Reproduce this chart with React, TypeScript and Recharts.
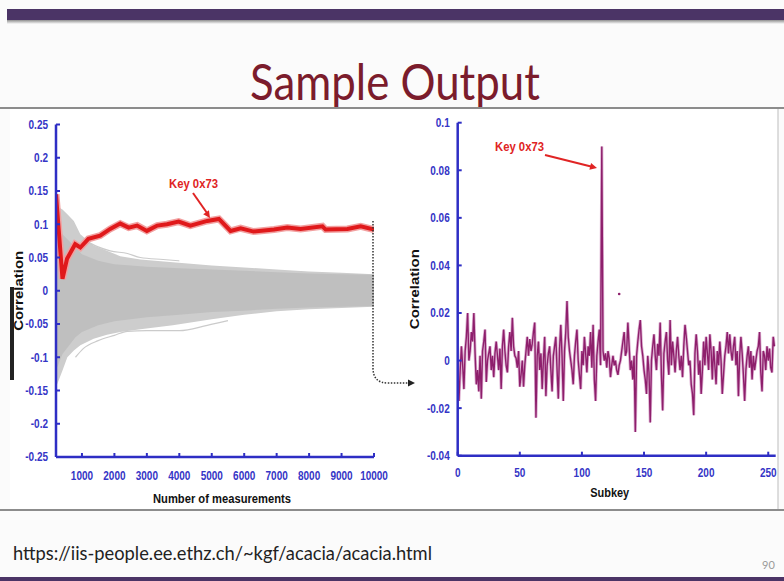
import React from "react";
import { ComposedChart, LineChart, Line, Area, XAxis, YAxis, ReferenceDot } from "recharts";

// left chart: correlation vs number of measurements
const measurementTicks = [1000, 2000, 3000, 4000, 5000, 6000, 7000, 8000, 9000, 10000];
const leftCorrTicks = [-0.25, -0.2, -0.15, -0.1, -0.05, 0, 0.05, 0.1, 0.15, 0.2, 0.25];

const keyX = [200, 400, 540, 790, 950, 1200, 1560, 1870, 2180, 2440, 2700, 3000, 3320, 3620, 3980, 4340, 4860, 5220, 5580, 5890, 6290, 6920, 7330, 7740, 8410, 8510, 9180, 9590, 10000];
const keyCorr = [0.145, 0.018, 0.048, 0.07, 0.065, 0.078, 0.083, 0.093, 0.101, 0.095, 0.098, 0.09, 0.098, 0.1, 0.104, 0.098, 0.105, 0.108, 0.09, 0.094, 0.089, 0.092, 0.095, 0.093, 0.097, 0.092, 0.093, 0.097, 0.092];

// envelope of the wrong-key guesses
const bandX = [200, 400, 550, 750, 950, 1360, 1770, 2180, 2800, 3800, 5000, 6000, 7000, 8000, 9000, 10000];
const bandHi = [0.128, 0.122, 0.115, 0.105, 0.085, 0.068, 0.06, 0.052, 0.047, 0.043, 0.038, 0.035, 0.032, 0.029, 0.027, 0.025];
const bandLo = [-0.145, -0.12, -0.1, -0.09, -0.082, -0.072, -0.066, -0.062, -0.058, -0.052, -0.043, -0.036, -0.031, -0.028, -0.026, -0.024];

const coreX = [200, 400, 800, 1000, 1500, 2000, 3000, 4000, 5000, 6000, 7000, 8000, 9000, 10000];
const coreHi = [0.1, 0.085, 0.065, 0.055, 0.045, 0.04, 0.036, 0.034, 0.032, 0.03, 0.028, 0.026, 0.025, 0.024];
const coreLo = [-0.12, -0.095, -0.07, -0.062, -0.052, -0.046, -0.04, -0.036, -0.032, -0.03, -0.027, -0.025, -0.024, -0.023];

const strayUpX = [1000, 1500, 1870, 2400, 2800, 3500, 4000];
const strayUpY = [0.078, 0.066, 0.06, 0.056, 0.05, 0.047, 0.045];
const strayLoX = [800, 1040, 1500, 2000, 2400, 3000, 4000, 4860, 5500];
const strayLoY = [-0.1, -0.087, -0.075, -0.067, -0.061, -0.06, -0.06, -0.052, -0.045];

// right chart: correlation per subkey guess
const subkeyTicks = [0, 50, 100, 150, 200, 250];
const rightCorrTicks = [-0.04, -0.02, 0, 0.02, 0.04, 0.06, 0.08, 0.1];
const subkeyCorr = [
  0.0, -0.017, -0.004, 0.006, -0.002, -0.012, 0.004, 0.01, 0.02, 0.0, 0.004, 0.012, 0.008, 0.02, 0.003, -0.01,
  -0.004, -0.013, 0.002, -0.016, 0.004, 0.008, 0.013, -0.009, 0.0, 0.003, 0.006, -0.004, 0.002, -0.007, 0.003, 0.008,
  0.002, -0.004, 0.005, -0.012, 0.006, 0.013, 0.004, -0.002, -0.005, 0.006, 0.012, 0.004, 0.018, 0.006, 0.002, 0.001,
  -0.003, 0.004, -0.011, -0.006, 0.0, -0.011, -0.002, 0.004, 0.01, 0.002, 0.009, 0.004, 0.007, 0.012, 0.016, -0.024,
  0.002, 0.008, -0.004, 0.003, -0.012, 0.0, 0.01, -0.015, -0.002, 0.003, 0.006, -0.004, -0.013, 0.002, 0.006, 0.01,
  -0.004, -0.016, 0.005, 0.015, 0.002, -0.017, 0.004, 0.012, 0.025, 0.01, 0.004, 0.0, -0.004, -0.01, 0.002, 0.008,
  0.013, 0.0, -0.006, -0.012, 0.004, -0.002, 0.01, 0.003, -0.005, 0.006, 0.002, 0.012, -0.003, 0.015, -0.008, -0.017,
  0.002, 0.008, 0.013, -0.002, 0.09, 0.004, 0.0, 0.003, -0.003, 0.004, 0.001, -0.007, -0.002, 0.002, -0.002, 0.0,
  -0.004, -0.006, -0.002, 0.0, 0.004, 0.008, 0.012, 0.002, 0.004, 0.016, 0.006, -0.004, 0.0, -0.008, 0.002, -0.03,
  0.002, 0.008, 0.013, 0.017, 0.006, 0.002, -0.004, -0.008, -0.014, 0.002, -0.005, -0.026, 0.0, 0.006, 0.011, 0.002,
  -0.004, 0.007, 0.002, 0.016, -0.006, -0.021, 0.003, 0.008, 0.012, 0.0, -0.006, 0.017, -0.002, 0.008, 0.002, -0.005,
  0.004, 0.01, 0.002, -0.004, 0.002, -0.007, 0.006, 0.015, 0.01, 0.004, -0.002, 0.0, -0.01, -0.014, -0.023, 0.003,
  0.011, 0.004, -0.006, 0.0, -0.014, -0.004, 0.008, -0.002, 0.01, 0.003, -0.004, 0.011, 0.004, -0.008, 0.006, -0.002,
  -0.01, 0.004, -0.002, 0.008, 0.0, -0.014, -0.006, 0.002, 0.006, 0.012, 0.003, 0.011, 0.004, 0.0, 0.006, 0.01,
  -0.002, 0.004, -0.015, 0.002, 0.01, 0.003, -0.006, -0.017, -0.004, 0.002, 0.006, -0.003, 0.004, -0.008, 0.002, -0.004,
  0.0, 0.004, 0.006, 0.012, -0.005, -0.013, 0.004, 0.002, -0.004, 0.006, 0.0, 0.005, -0.003, -0.005, 0.01, 0.006,
];

const keyData = keyX.map((x, i) => ({ x, y: keyCorr[i] }));
const bandData = bandX.map((x, i) => ({ x, range: [bandLo[i], bandHi[i]] }));
const coreData = coreX.map((x, i) => ({ x, range: [coreLo[i], coreHi[i]] }));
const strayUp = strayUpX.map((x, i) => ({ x, y: strayUpY[i] }));
const strayLo = strayLoX.map((x, i) => ({ x, y: strayLoY[i] }));
const subkeyData = subkeyCorr.map((c, i) => ({ subkey: i, c }));

const BLUE = "#2e2ec4";
const FONT = '"Liberation Sans", Arial, sans-serif';
const titleStyle = { fill: "#111", fontSize: 12.5, fontWeight: 700, fontFamily: FONT };
const fmt = (v: number) => String(parseFloat(v.toFixed(2)));

// matlab-ish narrow tick labels
const NarrowTick = (props: any) => {
  const { x, y, payload, textAnchor, verticalAnchor } = props;
  const dy = verticalAnchor === "start" ? "0.71em" : "0.355em";
  return (
    <g transform={`translate(${x},${y}) scale(0.8,1)`}>
      <text x={0} y={0} dy={dy} textAnchor={textAnchor} fill="#3535c6" fontSize={12.5} fontWeight={700} fontFamily={FONT}>
        {fmt(payload.value)}
      </text>
    </g>
  );
};

const yTitle = (offset: number) => (props: any) => {
  const vb = props.viewBox || {};
  const cx = vb.x + offset;
  const cy = vb.y + vb.height / 2;
  return (
    <text x={cx} y={cy} dy="0.355em" transform={`rotate(-90 ${cx} ${cy})`} textAnchor="middle"
      textLength={80} lengthAdjust="spacingAndGlyphs" style={titleStyle}>Correlation</text>
  );
};

const xTitle = (text: string, len: number, top: number, dx: number) => (props: any) => {
  const vb = props.viewBox || {};
  return (
    <text x={vb.x + vb.width / 2 + dx} y={vb.y + top} dy="0.71em" textAnchor="middle"
      textLength={len} lengthAdjust="spacingAndGlyphs" style={titleStyle}>{text}</text>
  );
};

function head(x1: number, y1: number, x2: number, y2: number, len = 7, w = 3.5) {
  const dx = x2 - x1, dy = y2 - y1;
  const d = Math.hypot(dx, dy);
  const ux = dx / d, uy = dy / d;
  const bx = x2 - ux * len, by = y2 - uy * len;
  return `${x2},${y2} ${bx - uy * w},${by + ux * w} ${bx + uy * w},${by - ux * w}`;
}

function Overlay() {
  const red = "#e02424";
  return (
    <svg width={784} height={581} style={{ position: "absolute", left: 0, top: 0, pointerEvents: "none" }}>
      <defs>
        <linearGradient id="shade" x1="0" y1="0" x2="0" y2="1">
          <stop offset="0" stopColor="#8f8f8f" />
          <stop offset="1" stopColor="#fbfbfb" />
        </linearGradient>
      </defs>
      <rect x={7} y={9} width={777} height={11} fill="#4b3466" />
      <rect x={7} y={20} width={777} height={4} fill="url(#shade)" />
      <text x={395} y={100} textAnchor="middle" fontFamily="Lato, 'Open Sans', sans-serif" fontSize={50}
        fill="#7b1c2c" textLength={290} lengthAdjust="spacingAndGlyphs">Sample Output</text>
      <line x1={0} y1={108} x2={784} y2={108} stroke="#8c8c8c" strokeWidth={2} />
      <line x1={0} y1={510} x2={784} y2={510} stroke="#8c8c8c" strokeWidth={2} />
      <line x1={778} y1={109} x2={778} y2={509} stroke="#bdbdbd" strokeWidth={1} />
      <rect x={10} y={287} width={4} height={93} fill="#222" />
      <text x={13} y={560} fontFamily="Lato, 'Open Sans', sans-serif" fontSize={20} fill="#222"
        textLength={419} lengthAdjust="spacingAndGlyphs">https://iis-people.ee.ethz.ch/~kgf/acacia/acacia.html</text>
      <text x={762} y={569} fontFamily="Lato, sans-serif" fontSize={11} fill="#9a9a9a">90</text>
      <rect x={0} y={577} width={784} height={4} fill="#4b3466" />

      {/* zoom connector */}
      <path d="M373 221 V368 Q373 383 388 383 H409" fill="none" stroke="#333" strokeWidth={1.5} strokeDasharray="1.5 1.5" />
      <polygon points={head(405, 383, 415, 383, 7, 3.5)} fill="#222" />

      {/* annotations */}
      <text x={169} y={188} fontFamily={FONT} fontWeight={700} fontSize={12.5} fill={red}
        textLength={49} lengthAdjust="spacingAndGlyphs">Key 0x73</text>
      <line x1={193} y1={193} x2={207} y2={213} stroke={red} strokeWidth={2} />
      <polygon points={head(193, 193, 210, 218)} fill={red} />
      <text x={495} y={151} fontFamily={FONT} fontWeight={700} fontSize={12.5} fill={red}
        textLength={49} lengthAdjust="spacingAndGlyphs">Key 0x73</text>
      <line x1={545} y1={155} x2={591} y2={166.5} stroke={red} strokeWidth={2} />
      <polygon points={head(545, 155, 597, 168)} fill={red} />
    </svg>
  );
}

export default function App() {
  return (
    <div style={{ position: "absolute", left: 0, top: 0, width: 784, height: 581, background: "#fbfbfb", overflow: "hidden" }}>
      <div style={{ position: "absolute", left: 10, top: 109, width: 768, height: 400, background: "#fff" }} />
      <div style={{ position: "absolute", left: 0, top: 100 }}>
        <ComposedChart width={392} height={420} margin={{ top: 24.5, right: 18, bottom: 23, left: 0 }}>
          <XAxis dataKey="x" type="number" domain={[200, 10000]} ticks={measurementTicks} allowDataOverflow interval={0}
            height={40} axisLine={{ stroke: BLUE, strokeWidth: 2.5 }} tickLine={{ stroke: BLUE, strokeWidth: 2 }}
            tickSize={-4} tickMargin={18} tick={NarrowTick}
            label={xTitle("Number of measurements", 138, 37, 7)} />
          <YAxis type="number" domain={[-0.25, 0.25]} ticks={leftCorrTicks} allowDataOverflow width={56} interval={0}
            axisLine={{ stroke: BLUE, strokeWidth: 2.5 }} tickLine={{ stroke: BLUE, strokeWidth: 2 }}
            tickSize={-4} tickMargin={12} tick={NarrowTick}
            label={yTitle(19)} />
          <Area data={bandData} dataKey="range" type="linear" stroke="none" fill="#cdcdcd" fillOpacity={1}
            isAnimationActive={false} dot={false} activeDot={false} />
          <Area data={coreData} dataKey="range" type="linear" stroke="none" fill="#bfbfbf" fillOpacity={1}
            isAnimationActive={false} dot={false} activeDot={false} />
          <Line data={strayUp} dataKey="y" type="monotone" stroke="#cbcbcb" strokeWidth={1.2} dot={false} isAnimationActive={false} />
          <Line data={strayLo} dataKey="y" type="monotone" stroke="#cbcbcb" strokeWidth={1.2} dot={false} isAnimationActive={false} />
          <Line data={keyData} dataKey="y" type="linear" stroke="#f2a0a0" strokeWidth={7} dot={false} isAnimationActive={false} />
          <Line data={keyData} dataKey="y" type="linear" stroke="#e0191b" strokeWidth={4} dot={false} isAnimationActive={false} />
        </ComposedChart>
      </div>
      <div style={{ position: "absolute", left: 392, top: 100 }}>
        <LineChart width={392} height={420} data={subkeyData} margin={{ top: 22.7, right: 8.3, bottom: 24.3, left: 0 }}>
          <XAxis dataKey="subkey" type="number" domain={[0, 256]} ticks={subkeyTicks} allowDataOverflow interval={0}
            height={40} axisLine={{ stroke: BLUE, strokeWidth: 2.5 }} tickLine={{ stroke: BLUE, strokeWidth: 2 }}
            tickSize={-4} tickMargin={16} tick={NarrowTick}
            label={xTitle("Subkey", 39, 32, -7)} />
          <YAxis type="number" domain={[-0.04, 0.1]} ticks={rightCorrTicks} allowDataOverflow width={65.7} interval={0}
            axisLine={{ stroke: BLUE, strokeWidth: 2.5 }} tickLine={{ stroke: BLUE, strokeWidth: 2 }}
            tickSize={-4} tickMargin={12} tick={NarrowTick}
            label={yTitle(23)} />
          <Line dataKey="c" type="linear" stroke="#dcaed0" strokeWidth={3} dot={false} isAnimationActive={false} />
          <Line dataKey="c" type="linear" stroke="#8e1f6c" strokeWidth={1.4} dot={false} isAnimationActive={false} />
          <ReferenceDot x={130} y={0.028} r={1.3} fill="#8e1f6c" stroke="none" />
        </LineChart>
      </div>
      <Overlay />
    </div>
  );
}
